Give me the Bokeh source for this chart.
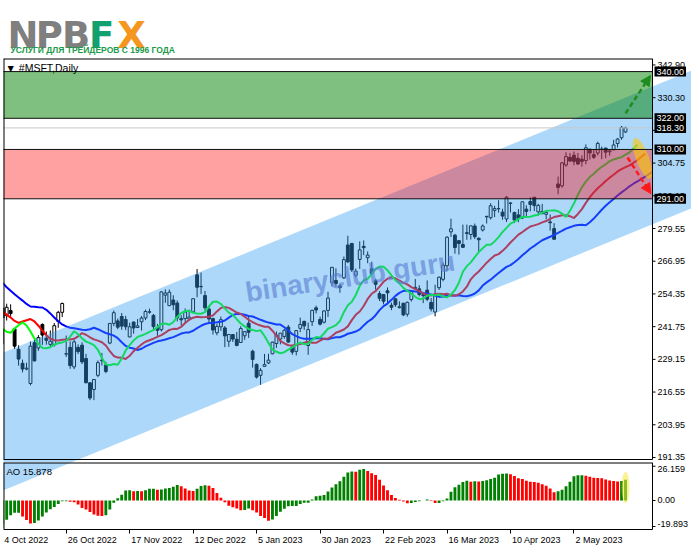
import numpy as np
import datetime as dt
from bokeh.plotting import figure
from bokeh.layouts import column
from bokeh.models import Range1d, FixedTicker, Label, Arrow, NormalHead
from bokeh.core.properties import value
from bokeh.embed import file_html
from bokeh.resources import INLINE

# ---------------------------------------------------------------- data
TRADING_DAYS = {
    "2022-08": [1, 2, 3, 4, 5, 8, 9, 10, 11, 12, 15, 16, 17, 18, 19, 22, 23, 24, 25, 26, 29, 30, 31],
    "2022-09": [1, 2, 6, 7, 8, 9, 12, 13, 14, 15, 16, 19, 20, 21, 22, 23, 26, 27, 28, 29, 30],
    "2022-10": [3, 4, 5, 6, 7, 10, 11, 12, 13, 14, 17, 18, 19, 20, 21, 24, 25, 26, 27, 28, 31],
    "2022-11": [1, 2, 3, 4, 7, 8, 9, 10, 11, 14, 15, 16, 17, 18, 21, 22, 23, 25, 28, 29, 30],
    "2022-12": [1, 2, 5, 6, 7, 8, 9, 12, 13, 14, 15, 16, 19, 20, 21, 22, 23, 27, 28, 29, 30],
    "2023-01": [3, 4, 5, 6, 9, 10, 11, 12, 13, 17, 18, 19, 20, 23, 24, 25, 26, 27, 30, 31],
    "2023-02": [1, 2, 3, 6, 7, 8, 9, 10, 13, 14, 15, 16, 17, 21, 22, 23, 24, 27, 28],
    "2023-03": [1, 2, 3, 6, 7, 8, 9, 10, 13, 14, 15, 16, 17, 20, 21, 22, 23, 24, 27, 28, 29, 30, 31],
    "2023-04": [3, 4, 5, 6, 10, 11, 12, 13, 14, 17, 18, 19, 20, 21, 24, 25, 26, 27, 28],
    "2023-05": [1, 2, 3, 4, 5, 8, 9, 10, 11, 12, 15, 16, 17, 18, 19],
}
DATES = [f"{m}-{d:02d}" for m, ds in TRADING_DAYS.items() for d in ds]

OPEN = [
    277.82, 276.48, 276.76, 281.96, 279.15, 284.05, 279.64, 288.17, 290.85, 288.48, 291.00, 291.99, 289.74, 290.19, 288.90, 282.08, 276.44, 275.41, 277.33, 279.08, 265.85, 266.67, 265.39,
    258.87, 261.70, 256.20, 254.70, 257.16, 260.58, 265.41, 258.84, 253.53, 249.77, 244.26, 242.47, 242.07, 244.27, 237.78, 239.54, 237.05, 239.98, 236.81, 238.89, 235.41,
    235.08, 245.09, 245.99, 247.93, 240.90, 233.05, 227.62, 225.40, 219.85, 235.54, 233.54, 242.59, 237.28, 234.90, 234.74, 243.76, 247.26, 231.17, 233.77, 226.24, 233.76,
    234.60, 229.46, 220.10, 217.55, 223.00, 228.62, 227.00, 235.43, 242.99, 243.96, 245.66, 244.51, 237.78, 243.51, 241.43, 243.59, 245.11, 247.31, 246.08, 241.40, 240.57,
    253.87, 249.82, 252.01, 250.82, 244.83, 244.84, 244.70, 247.45, 261.69, 257.13, 253.72, 248.55, 244.86, 239.40, 241.69, 241.26, 236.11, 238.70, 236.89, 235.65, 238.21,
    243.08, 232.28, 227.20, 223.00, 226.45, 227.76, 231.29, 235.26, 237.00, 237.97, 241.57, 233.92, 232.22, 241.10, 243.79, 234.48, 243.65, 248.99, 244.51, 243.45,
    248.00, 258.82, 259.54, 257.44, 260.53, 273.20, 273.80, 261.53, 267.64, 272.67, 268.32, 264.02, 259.39, 254.48, 254.09, 255.56, 249.96, 252.46, 249.07,
    250.76, 246.55, 252.19, 256.43, 256.30, 254.04, 255.82, 251.08, 247.40, 256.75, 259.98, 265.21, 278.26, 276.98, 274.88, 273.40, 277.94, 277.24, 280.50, 275.79, 278.96, 284.23, 283.73,
    286.52, 287.23, 285.85, 283.21, 289.21, 285.75, 284.79, 283.59, 287.00, 289.93, 291.57, 285.99, 285.25, 285.01, 282.09, 279.51, 296.70, 295.97, 304.01,
    306.97, 307.76, 306.62, 306.24, 305.72, 310.13, 308.00, 308.62, 310.10, 310.55, 309.10, 309.83, 312.29, 314.53, 316.74,
]
HIGH = [
    281.28, 277.75, 283.50, 283.95, 283.65, 285.92, 283.08, 289.81, 291.21, 291.91, 294.18, 294.04, 293.35, 291.91, 289.25, 282.46, 278.86, 277.23, 279.02, 280.34, 267.40, 267.05, 267.11,
    260.89, 264.74, 257.83, 258.95, 260.15, 264.69, 267.45, 260.40, 254.23, 251.40, 245.30, 245.14, 244.01, 248.18, 242.06, 239.60, 241.45, 241.79, 242.28, 239.95, 237.93,
    241.33, 250.36, 250.58, 250.35, 241.32, 234.56, 229.06, 227.86, 236.02, 237.24, 238.49, 243.01, 239.87, 240.29, 243.14, 247.84, 251.04, 238.30, 236.08, 236.70, 234.92,
    235.74, 231.30, 220.41, 221.59, 228.72, 231.65, 228.24, 243.10, 247.99, 244.88, 247.00, 245.93, 243.25, 243.74, 244.67, 245.85, 248.29, 248.70, 246.65, 242.79, 255.33,
    256.12, 256.06, 253.82, 251.86, 246.16, 248.74, 248.31, 252.54, 263.92, 262.59, 255.48, 249.84, 245.21, 242.91, 245.62, 241.99, 238.87, 238.93, 239.72, 241.92, 239.96,
    245.75, 232.87, 227.55, 225.76, 231.24, 231.31, 235.95, 239.90, 239.37, 240.91, 242.38, 234.23, 240.46, 245.21, 244.00, 243.30, 248.31, 249.83, 245.60, 247.97,
    255.18, 264.69, 264.20, 258.30, 268.77, 276.76, 273.98, 264.09, 274.60, 274.97, 270.73, 266.74, 260.09, 255.49, 254.34, 256.84, 251.00, 252.82, 251.49,
    250.93, 251.40, 255.62, 260.12, 257.69, 254.54, 259.56, 252.79, 257.91, 261.07, 266.48, 276.56, 283.33, 277.48, 275.00, 281.04, 281.06, 280.63, 281.46, 276.14, 281.14, 284.46, 289.27,
    288.27, 290.45, 287.15, 292.08, 289.60, 285.98, 287.01, 289.90, 288.48, 291.60, 291.76, 289.05, 289.03, 286.27, 284.95, 281.60, 299.57, 305.20, 308.93,
    308.60, 309.18, 308.61, 307.76, 311.96, 310.20, 310.04, 313.00, 311.12, 310.65, 309.90, 313.71, 314.43, 319.04, 318.75,
]
LOW = [
    275.84, 271.46, 276.61, 280.38, 278.68, 279.32, 277.61, 286.94, 286.51, 286.94, 290.11, 290.42, 289.47, 289.08, 285.56, 277.22, 275.40, 275.11, 274.52, 267.98, 263.85, 260.66, 261.33,
    255.41, 254.47, 251.94, 253.88, 256.02, 260.22, 264.78, 251.59, 249.86, 244.02, 242.06, 240.85, 241.09, 238.90, 237.71, 234.39, 236.39, 234.63, 234.73, 234.41, 232.04,
    234.41, 244.98, 244.10, 245.61, 233.17, 226.73, 224.11, 224.96, 219.13, 228.34, 232.45, 234.71, 234.81, 233.82, 234.09, 241.30, 245.44, 230.06, 225.52, 225.35, 231.15,
    227.33, 220.04, 213.43, 213.43, 222.27, 226.75, 223.80, 235.00, 241.93, 240.76, 240.56, 240.40, 237.63, 239.03, 241.19, 240.24, 244.27, 246.73, 240.80, 238.21, 239.86,
    250.92, 249.69, 248.06, 243.78, 242.21, 243.06, 244.16, 247.17, 253.07, 254.31, 247.83, 243.51, 238.71, 238.42, 240.11, 233.87, 233.94, 235.83, 234.17, 235.65, 236.66,
    237.40, 225.96, 221.76, 219.35, 226.41, 227.33, 231.11, 233.56, 234.92, 237.09, 235.52, 230.90, 230.68, 239.65, 240.50, 230.90, 242.00, 246.83, 242.20, 242.95,
    245.47, 257.25, 257.10, 254.78, 260.08, 266.21, 262.80, 260.66, 264.00, 269.28, 266.18, 261.90, 256.00, 251.59, 250.34, 250.48, 248.10, 249.39, 248.73,
    245.79, 245.61, 251.39, 255.98, 253.39, 250.81, 251.58, 247.60, 245.73, 255.86, 259.21, 263.28, 276.32, 269.85, 269.52, 272.18, 275.20, 275.28, 275.52, 270.52, 278.41, 281.48, 283.00,
    283.95, 285.67, 282.92, 282.03, 285.71, 281.64, 281.96, 283.17, 283.69, 286.16, 286.28, 284.54, 285.08, 283.06, 278.72, 275.37, 292.73, 295.25, 303.31,
    305.15, 303.91, 304.09, 303.40, 304.27, 306.09, 306.31, 307.67, 306.26, 306.60, 307.59, 309.83, 310.74, 313.72, 316.37,
]
CLOSE = [
    278.01, 274.82, 282.47, 283.65, 282.91, 280.32, 282.30, 289.16, 287.02, 291.91, 293.47, 292.71, 291.32, 290.17, 286.15, 277.75, 276.44, 275.79, 278.85, 268.09, 265.23, 262.97, 261.47,
    260.40, 256.06, 253.25, 258.09, 258.52, 264.46, 266.65, 251.99, 252.22, 245.38, 244.74, 244.52, 242.45, 238.95, 240.98, 237.92, 237.45, 236.41, 241.07, 237.50, 232.90,
    240.74, 248.88, 249.20, 246.79, 234.24, 229.25, 225.41, 225.75, 234.24, 228.56, 237.53, 238.50, 236.48, 236.15, 242.12, 247.25, 250.66, 231.32, 226.75, 235.87, 232.13,
    228.17, 220.10, 214.25, 221.39, 227.87, 228.87, 224.51, 242.98, 247.11, 241.55, 241.97, 241.73, 241.68, 241.22, 242.05, 245.03, 247.58, 247.49, 241.76, 240.33, 255.14,
    254.69, 255.02, 250.20, 245.12, 244.37, 247.40, 245.42, 252.51, 256.92, 257.22, 249.01, 244.69, 240.45, 241.80, 244.43, 238.19, 238.73, 236.96, 234.53, 241.01, 239.82,
    239.58, 229.10, 222.31, 224.93, 227.12, 228.85, 235.77, 238.51, 239.23, 240.35, 235.81, 231.93, 240.22, 242.58, 242.04, 240.61, 248.00, 248.16, 242.71, 247.81,
    252.75, 264.60, 258.35, 256.77, 267.56, 266.73, 263.62, 263.10, 271.32, 272.17, 269.32, 262.15, 258.06, 252.67, 251.51, 254.77, 249.22, 250.16, 249.42,
    246.27, 251.11, 255.29, 256.87, 254.15, 253.70, 252.32, 248.59, 253.92, 260.79, 265.44, 276.20, 279.43, 272.23, 273.78, 272.29, 277.66, 280.57, 276.38, 275.23, 280.51, 284.05, 288.30,
    287.23, 287.18, 284.34, 291.60, 289.39, 282.83, 283.49, 289.84, 286.14, 288.80, 288.37, 288.45, 286.11, 285.76, 281.77, 275.42, 295.37, 304.83, 307.26,
    305.56, 305.41, 304.40, 305.41, 310.65, 308.65, 307.00, 312.31, 310.11, 308.97, 309.46, 311.74, 314.00, 318.52, 318.34,
]

FIRST_DATE = "2022-10-04"
TICK_DATES = ["2022-10-04", "2022-10-26", "2022-11-17", "2022-12-12", "2023-01-05",
              "2023-01-30", "2023-02-22", "2023-03-16", "2023-04-10", "2023-05-02"]

PRICE_TICKS = [191.35, 203.95, 216.55, 229.15, 241.75, 254.35, 266.95, 279.55,
               292.15, 304.75, 317.35, 329.95, 342.55]
PRICE_TICK_LABELS = ["191.35", "203.95", "216.55", "229.15", "241.75", "254.35", "266.95",
                     "279.55", "292.15", "304.75", "317.35", "330.30", "342.90"]
LEVELS = [340.00, 322.00, 318.30, 310.00, 291.00]
LEVEL_TEXT = ["340.00", "322.00", "318.30", "310.00", "291.00"]
GREEN_ZONE = [322.00, 340.00]
RED_ZONE = [291.00, 310.00]
AO_TICKS = [26.159, 0.0, -19.893]
AO_TICK_LABELS = ["26.159", "0.00", "-19.893"]

# analyst drawings (bar index, price)
CHANNEL_T = [0.0, 160.0]
CHANNEL_UPPER = [231.65, 331.89]
CHANNEL_LOWER = [178.59, 278.83]
ARROW_UP = [157.0, 323.9, 163.3, 338.5]
ARROW_DOWN = [157.5, 306.9, 163.4, 293.0]
OVAL_PRICE = [161.3, 306.5]
OVAL_AO = [157.0, 9.9]
WATERMARK = [61.2, 254.9]

LOGO_LETTERS = ["N", "P", "B", "F", "X"]
LOGO_CENTERS = [19.5, 46.0, 73.0, 98.5, 128.5]
LOGO_COLORS = ["#7f7f7f", "#7f7f7f", "#7f7f7f", "#12a06e", "#f5961e"]

# ---------------------------------------------------------------- indicators
O = np.array(OPEN); H = np.array(HIGH); L = np.array(LOW); C = np.array(CLOSE)
assert len(DATES) == len(O) == len(H) == len(L) == len(C)
n = len(C)
xi = np.arange(n) - DATES.index(FIRST_DATE)
med = (H + L) / 2.0


def smma(src, per):
    out = np.full(len(src), np.nan)
    out[per - 1] = src[:per].mean()
    for k in range(per, len(src)):
        out[k] = (out[k - 1] * (per - 1) + src[k]) / per
    return out


def sma(src, per):
    out = np.full(len(src), np.nan)
    cs_ = np.cumsum(np.insert(src, 0, 0.0))
    out[per - 1:] = (cs_[per:] - cs_[:-per]) / per
    return out


jaw, teeth, lips = smma(med, 13), smma(med, 8), smma(med, 5)
ao = sma(med, 5) - sma(med, 34)

# ---------------------------------------------------------------- layout
FONT = "Liberation Sans"
W = 691
LOGO_H = 57
BL = 3
WIN_W = 649                      # chart window width (up to the price-scale line)
X0, X_AX = 0.2, 163.8            # bar range of the chart window
PPB = WIN_W / (X_AX - X0)
X_END = X0 + (W - BL) / PPB      # frames also cover the price-scale strip

Y0, Y1 = 190.57, 345.04
WIN_H = 401
EXT = 3
MAIN_TOP = 1
MAIN_H = MAIN_TOP + WIN_H + EXT
k1 = WIN_H / (Y1 - Y0)
Y0E = Y0 - EXT / k1

AY0, AY1 = -22.18, 28.99
AO_WIN_H = 67
AO_EXT = 3
AO_BOT = 17
AO_H = AO_WIN_H + AO_EXT + AO_BOT
k2 = AO_WIN_H / (AY1 - AY0)
AY0E = AY0 - AO_EXT / k2
TICK_LEN = 3 / PPB
LAB_OFF = 5 / PPB
SCALE_FS = "9px"

# ---- logo
logo = figure(width=W, height=LOGO_H, x_range=Range1d(0, W), y_range=Range1d(LOGO_H, 0),
              output_backend="svg", toolbar_location=None, x_axis_location=None,
              y_axis_location=None, min_border=0, title=None, outline_line_color=None)
logo.grid.visible = False
logo.text(x=LOGO_CENTERS, y=[35.0] * 5, text=LOGO_LETTERS,
          text_font=value("DejaVu Sans"), text_font_style="bold",
          text_font_size="37px", text_color=LOGO_COLORS, text_baseline="alphabetic",
          text_align="center")
logo.text(x=[7], y=[49.5], text=["УСЛУГИ ДЛЯ ТРЕЙДЕРОВ С 1996 ГОДА"],
          text_font=value(FONT), text_font_style="bold",
          text_font_size="8.5px", text_color="#1b9a4b", text_baseline="alphabetic")

# ---- main price chart
p = figure(width=W, height=MAIN_H, x_range=Range1d(X0, X_END), y_range=Range1d(Y0E, Y1),
           output_backend="svg", toolbar_location=None, x_axis_location=None,
           y_axis_location=None, min_border_left=BL, min_border_right=0,
           min_border_top=MAIN_TOP, min_border_bottom=0, title=None)
p.grid.visible = False
p.outline_line_color = None
p.background_fill_color = "white"

slope = (CHANNEL_UPPER[1] - CHANNEL_UPPER[0]) / (CHANNEL_T[1] - CHANNEL_T[0])


def ch_up(t):
    return CHANNEL_UPPER[0] + slope * (t - CHANNEL_T[0])


def ch_lo(t):
    return CHANNEL_LOWER[0] + slope * (t - CHANNEL_T[0])


vis = xi >= -1
up = vis & (C >= O)
dn = vis & (C < O)
p.segment(x0=xi[vis], y0=H[vis], x1=xi[vis], y1=L[vis], line_color="black", line_width=1)
p.vbar(x=xi[up], width=0.72, top=C[up], bottom=O[up], fill_color="white", line_color="black", line_width=1)
p.vbar(x=xi[dn], width=0.72, top=O[dn], bottom=C[dn], fill_color="black", line_color="black", line_width=1)

for series, shift, col in ((jaw, 8, "#0000ff"), (teeth, 5, "#ff0000"), (lips, 3, "#00ff00")):
    xs = (xi + shift).astype(float)
    m = (xs >= -3) & ~np.isnan(series)
    xs, ys = xs[m], series[m]
    if xs[-1] > X_AX:
        keep = xs <= X_AX
        yend = np.interp(X_AX, xs, ys)
        xs = np.append(xs[keep], X_AX)
        ys = np.append(ys[keep], yend)
    p.line(xs, ys, line_color=col, line_width=2)

# channel (reaches into the price-scale strip, as in the terminal)
tx = [-5.0, 185.0]
p.patch(x=[tx[0], tx[1], tx[1], tx[0]], y=[ch_up(tx[0]), ch_up(tx[1]), ch_lo(tx[1]), ch_lo(tx[0])],
        fill_color=(50, 157, 242), fill_alpha=0.4, line_color=None)

# zones
p.quad(left=[-5], right=[X_AX], bottom=[GREEN_ZONE[0]], top=[GREEN_ZONE[1]],
       fill_color=(0, 128, 0), fill_alpha=0.5, line_color=None)
p.quad(left=[-5], right=[X_AX], bottom=[RED_ZONE[0]], top=[RED_ZONE[1]],
       fill_color=(255, 0, 0), fill_alpha=0.37, line_color=None)

# oval on the alligator mouth
p.ellipse(x=[OVAL_PRICE[0]], y=[OVAL_PRICE[1]], width=13, height=43, angle=0.36,
          width_units="screen", height_units="screen", fill_color=(255, 200, 0),
          fill_alpha=0.6, line_color=None)

# level lines
lv_col = ["#101010", "#101010", "#c8c8c8", "#101010", "#101010"]
p.segment(x0=[X0 - 1] * len(LEVELS), y0=LEVELS, x1=[X_AX] * len(LEVELS), y1=LEVELS,
          line_color=lv_col, line_width=1)

# window frame and price-scale line
p.segment(x0=[X0, X0], y0=[Y0, Y1], x1=[X0, X_AX], y1=[Y1, Y1], line_color="black", line_width=2)
p.segment(x0=[X0, X_AX], y0=[Y0, Y0], x1=[X_AX, X_AX], y1=[Y0, Y1], line_color="black", line_width=1)

# price scale: tick marks and labels
nt = len(PRICE_TICKS)
p.segment(x0=[X_AX] * nt, y0=PRICE_TICKS, x1=[X_AX + TICK_LEN] * nt, y1=PRICE_TICKS,
          line_color="black", line_width=1)
p.text(x=[X_AX + LAB_OFF] * nt, y=PRICE_TICKS, text=PRICE_TICK_LABELS,
       text_font=value(FONT), text_font_size=SCALE_FS, text_color="black",
       text_baseline="middle", text_align="left")

p.add_layout(Label(x=WATERMARK[0], y=WATERMARK[1], text="binaryclub.guru", angle=0.15,
                   text_font=FONT, text_font_style="bold", text_font_size="28px",
                   text_color="#5b7fd3", text_alpha=0.65, text_baseline="alphabetic"))

for (x_s, y_s, x_e, y_e), col in ((ARROW_UP, "#1e8c1e"), (ARROW_DOWN, "#ff1a1a")):
    p.add_layout(Arrow(end=NormalHead(size=10, fill_color=col, line_color=col),
                       x_start=x_s, y_start=y_s, x_end=x_e, y_end=y_e,
                       line_color=col, line_width=2.5, line_dash="5 3"))

p.add_layout(Label(x=X0, y=Y1 - 1.5, x_offset=2, text="\u25bc #MSFT,Daily", text_font=FONT,
                   text_font_size="10.5px", text_color="black", text_baseline="top"))

for lv, txt in zip(LEVELS, LEVEL_TEXT):
    p.add_layout(Label(x=X_AX, y=lv, x_offset=2, text=txt, text_font=FONT, text_font_size=SCALE_FS,
                       text_color="white", text_baseline="middle", text_align="left",
                       background_fill_color="black", padding=2))

# ---- AO panel
pa = figure(width=W, height=AO_H, x_range=Range1d(X0, X_END), y_range=Range1d(AY0E, AY1),
            output_backend="svg", toolbar_location=None, y_axis_location=None,
            min_border_left=BL, min_border_right=0, min_border_top=0,
            min_border_bottom=AO_BOT, title=None)
pa.grid.visible = False
pa.outline_line_color = None

aov = vis & ~np.isnan(ao)
prev = np.roll(ao, 1)
grow = ao > prev
g = aov & grow
r = aov & ~grow
pa.vbar(x=xi[g], width=0.72, top=ao[g], bottom=0, fill_color="#008000", line_color=None)
pa.vbar(x=xi[r], width=0.72, top=ao[r], bottom=0, fill_color="#ff0000", line_color=None)


# channel continuing into the AO window
def ao_of_lower(t):
    rel = (Y1 - ch_lo(t)) * k1 - (WIN_H + EXT)
    return AY1 - rel / k2


ta = [-5.0, 40.0]
pa.patch(x=[ta[0], ta[1], ta[1], ta[0]], y=[ao_of_lower(ta[0]), ao_of_lower(ta[1]), AY1 + 50, AY1 + 50],
         fill_color=(50, 157, 242), fill_alpha=0.4, line_color=None)

pa.ellipse(x=[OVAL_AO[0]], y=[OVAL_AO[1]], width=8, height=31, width_units="screen",
           height_units="screen", fill_color=(250, 230, 60), fill_alpha=0.55, line_color=None)

# AO window frame and its scale
pa.segment(x0=[X0, X0], y0=[AY0, AY1], x1=[X0, X_AX], y1=[AY1, AY1], line_color="black", line_width=2)
pa.segment(x0=[X0, X_AX], y0=[AY0, AY0], x1=[X_AX, X_AX], y1=[AY0, AY1], line_color="black", line_width=1)
na = len(AO_TICKS)
pa.segment(x0=[X_AX] * na, y0=AO_TICKS, x1=[X_AX + TICK_LEN] * na, y1=AO_TICKS,
           line_color="black", line_width=1)
pa.text(x=[X_AX + LAB_OFF] * na, y=AO_TICKS, text=AO_TICK_LABELS, y_offset=[2.5, 0, -2.5],
        text_font=value(FONT), text_font_size=SCALE_FS, text_color="black",
        text_baseline="middle", text_align="left")

pa.add_layout(Label(x=X0, y=AY1 - 3.0, x_offset=3, text="AO 15.878", text_font=FONT,
                    text_font_size="9.5px", text_color="black", text_baseline="top"))

CW = {" ": 0.278, "O": 0.778, "c": 0.5, "t": 0.278, "N": 0.722, "o": 0.556, "v": 0.5,
      "D": 0.722, "e": 0.556, "J": 0.5, "a": 0.556, "n": 0.556, "F": 0.611, "b": 0.556,
      "M": 0.833, "r": 0.333, "A": 0.667, "p": 0.556, "y": 0.5}
XFS = 9.0


def label_of(ds):
    d = dt.date.fromisoformat(ds)
    return f"{d.day} {d.strftime('%b')} {d.year}"


tick_pos, centers, overrides = [], [], {}
for ds in TICK_DATES:
    t = float(xi[DATES.index(ds)])
    txt = label_of(ds)
    w = sum(CW.get(ch, 0.556) for ch in txt) * XFS
    cpos = round(t + (w / 2 + 1.5) / PPB, 3)
    tick_pos.append(t)
    centers.append(cpos)
    overrides[cpos] = txt

xa = pa.xaxis[0]
xa.ticker = FixedTicker(ticks=centers, minor_ticks=tick_pos)
xa.major_label_overrides = overrides
xa.axis_line_color = None
xa.major_tick_out = 0
xa.major_tick_in = 0
xa.major_tick_line_color = None
xa.minor_tick_out = 1
xa.minor_tick_in = AO_EXT
xa.minor_tick_line_color = "black"
xa.major_label_standoff = 1
xa.major_label_text_font = FONT
xa.major_label_text_font_size = "9px"
xa.major_label_text_color = "black"

layout = column(logo, p, pa, spacing=0)
open("out.html", "w").write(file_html(layout, INLINE))
